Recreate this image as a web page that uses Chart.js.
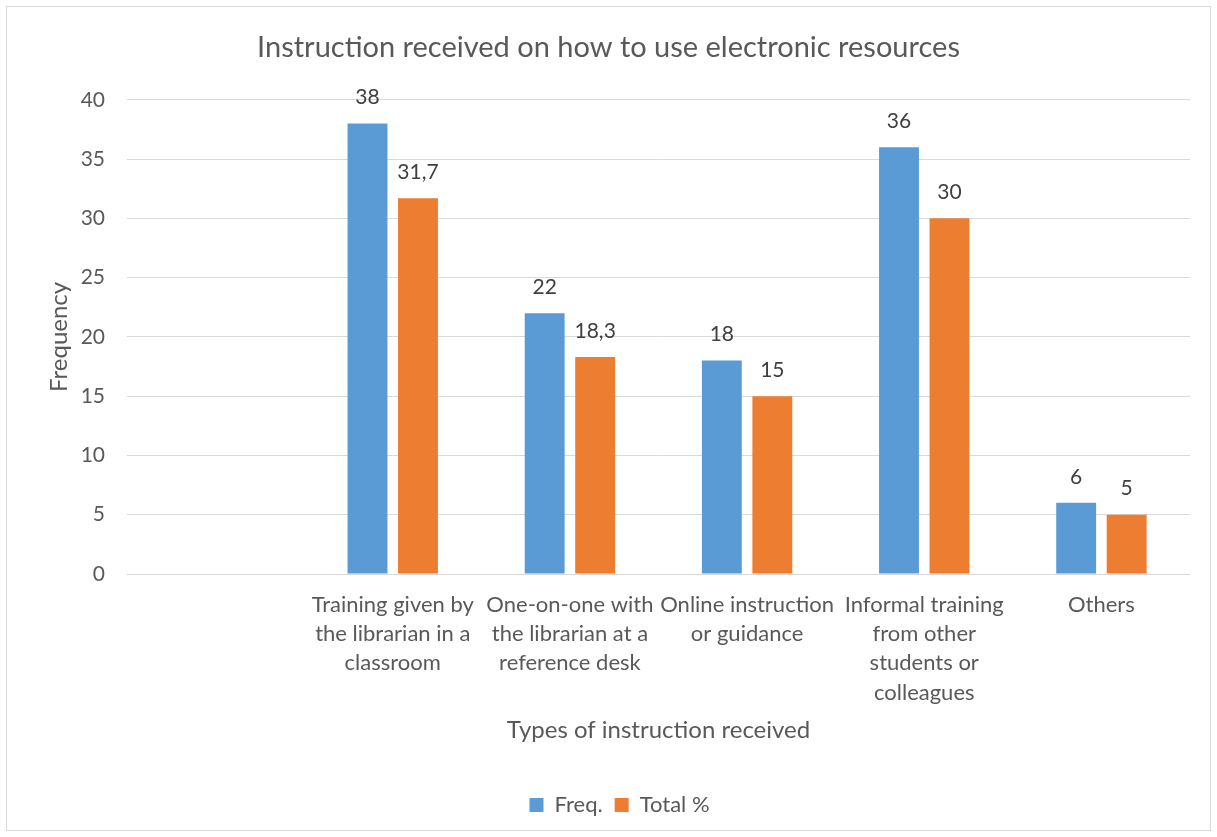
<!DOCTYPE html>
<html>
<head>
<meta charset="utf-8">
<script src="https://cdn.jsdelivr.net/npm/chart.js@4"></script>
<style>
  html, body { margin: 0; padding: 0; background: #fff; }
  #wrap { position: relative; width: 1217px; height: 837px; }
  #frame { position: absolute; left: 6px; top: 6px; width: 1203px; height: 823px; border: 1px solid #d9d9d9; pointer-events: none; }
</style>
</head>
<body>
<div id="wrap">
  <canvas id="chart" width="1217" height="837"></canvas>
  <div id="frame"></div>
</div>
<script>
const categories = [
  "",
  ["Training given by", "the librarian in a", "classroom"],
  ["One-on-one with", "the librarian at a", "reference desk"],
  ["Online instruction", "or guidance"],
  ["Informal training", "from other", "students or", "colleagues"],
  "Others"
];
const freq = [null, 38, 22, 18, 36, 6];
const totalPct = [null, 31.7, 18.3, 15, 30, 5];
const yTicks = [0, 5, 10, 15, 20, 25, 30, 35, 40];

const FONT = "Lato, 'Open Sans', sans-serif";
const TEXT = "#595959";

// value labels above each bar, decimal comma
const barLabels = {
  id: "barLabels",
  afterDatasetsDraw(chart) {
    const ctx = chart.ctx;
    ctx.save();
    ctx.font = "21px " + FONT;
    ctx.fillStyle = "#404040";
    ctx.textAlign = "center";
    ctx.textBaseline = "middle";
    chart.data.datasets.forEach((ds, i) => {
      chart.getDatasetMeta(i).data.forEach((bar, j) => {
        const v = ds.data[j];
        if (v == null) return;
        ctx.fillText(String(v).replace(".", ","), bar.x, bar.y - 26);
      });
    });
    ctx.restore();
  }
};

// centre title and legend on the whole canvas, not the padded area
const centreBlocks = {
  id: "centreBlocks",
  afterLayout(chart) {
    chart.titleBlock.right = chart.width;
    chart.legend.right = chart.width;
    chart.legend.left += 22;
  }
};

new Chart(document.getElementById("chart").getContext("2d"), {
  type: "bar",
  data: {
    labels: categories,
    datasets: [
      { label: "Freq.", data: freq, backgroundColor: "#5B9BD5" },
      { label: "Total %", data: totalPct, backgroundColor: "#ED7D31" }
    ]
  },
  options: {
    responsive: false,
    animation: false,
    categoryPercentage: 0.57,
    barPercentage: 0.79,
    layout: { padding: { left: 0, right: 27, top: 0, bottom: 11 } },
    plugins: {
      title: {
        display: true,
        text: "Instruction received on how to use electronic resources",
        color: TEXT,
        font: { family: FONT, size: 29, weight: "normal" },
        padding: { top: 30, bottom: 35 }
      },
      legend: {
        position: "bottom",
        labels: {
          color: TEXT,
          font: { family: FONT, size: 22 },
          boxWidth: 14,
          boxHeight: 14,
          padding: 12
        }
      },
      tooltip: { enabled: false }
    },
    scales: {
      x: {
        grid: { display: false, drawTicks: false },
        border: { display: false },
        ticks: {
          color: TEXT,
          font: { family: FONT, size: 22, lineHeight: 1.33 },
          padding: 16,
          maxRotation: 0,
          autoSkip: false
        },
        title: {
          display: true,
          text: "Types of instruction received",
          color: TEXT,
          font: { family: FONT, size: 24 },
          padding: { top: 0, bottom: 37 }
        },
        afterFit(scale) { scale.height = 208; }
      },
      y: {
        min: 0,
        max: 40,
        grid: { color: "#d9d9d9", lineWidth: 1, drawTicks: false },
        border: { display: false },
        afterBuildTicks(scale) { scale.ticks = yTicks.map(v => ({ value: v })); },
        ticks: {
          color: TEXT,
          font: { family: FONT, size: 21 },
          padding: 22
        },
        title: {
          display: true,
          text: "Frequency",
          color: TEXT,
          font: { family: FONT, size: 24 },
          padding: { top: 45, bottom: 0 }
        },
        afterFit(scale) { scale.width = 127; }
      }
    }
  },
  plugins: [barLabels, centreBlocks]
});
</script>
</body>
</html>
